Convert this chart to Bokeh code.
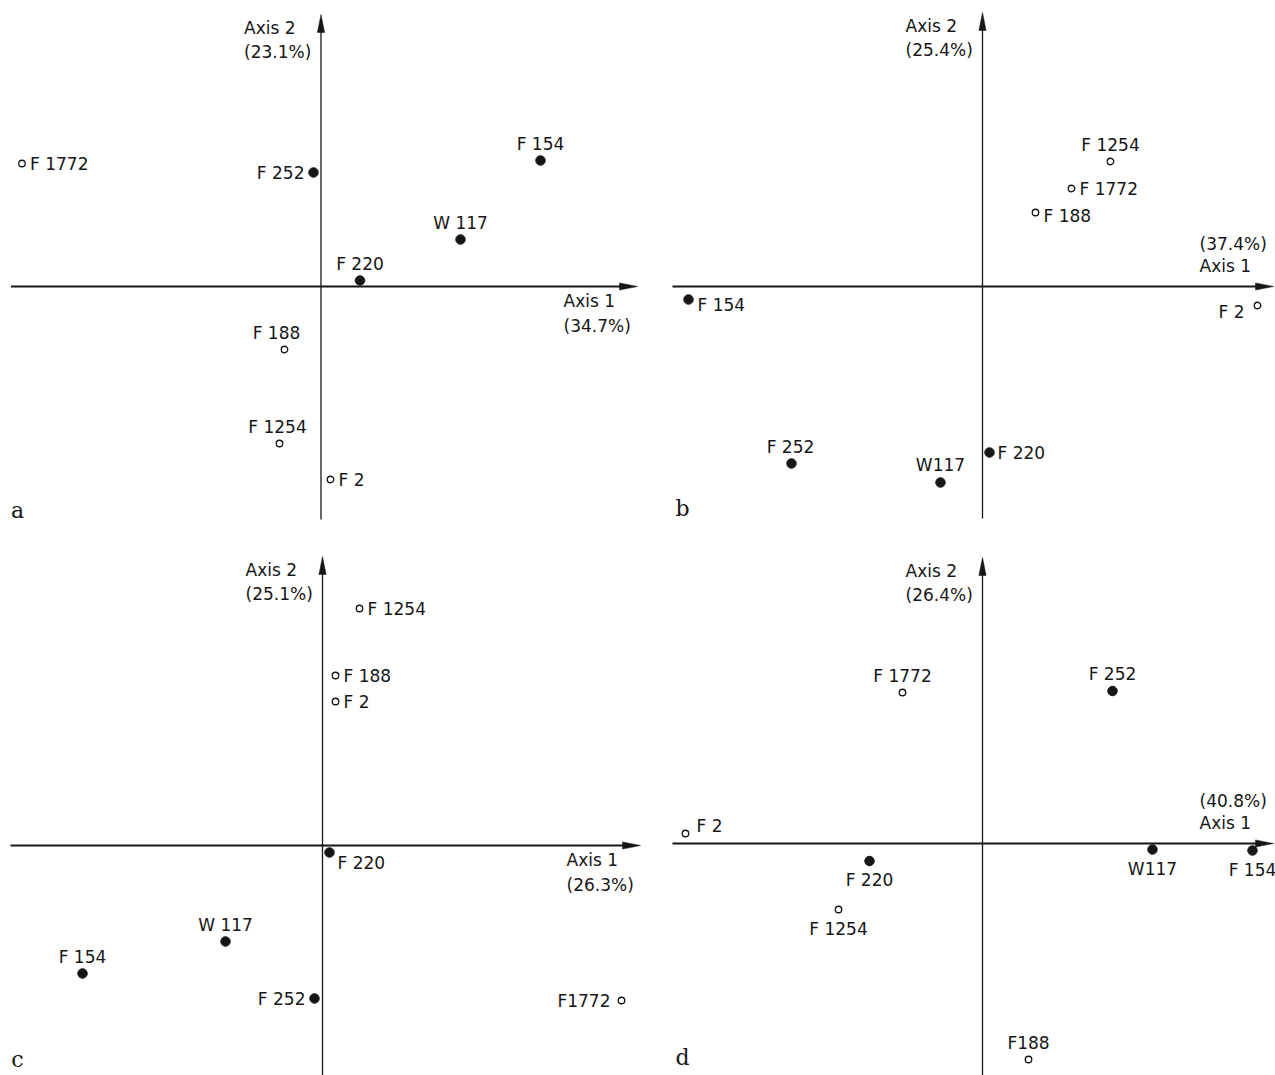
from bokeh.plotting import figure
from bokeh.layouts import gridplot
from bokeh.models import ColumnDataSource, Range1d
from bokeh.core.properties import value
from bokeh.embed import file_html
from bokeh.resources import INLINE

# Strains in a fixed order; open circles vs filled dots
strains = ["F 2", "F 154", "F 188", "F 220", "F 252", "F 1254", "F 1772", "W 117"]
is_open = [True, False, True, False, False, True, True, False]

# Panel a: scores on axis 1 / axis 2
axis1_a = [0.095, 2.195, -0.365, 0.39, -0.075, -0.415, -2.99, 1.395]
axis2_a = [-1.93, 1.26, -0.63, 0.06, 1.14, -1.57, 1.23, 0.47]
labels_a = ["F 2", "F 154", "F 188", "F 220", "F 252", "F 1254", "F 1772", "W 117"]
inertia_a = ["34.7%", "23.1%"]

# Panel b
axis1_b = [2.75, -2.94, 0.53, 0.07, -1.91, 1.28, 0.89, -0.42]
axis2_b = [-0.19, -0.13, 0.74, -1.66, -1.77, 1.25, 0.98, -1.96]
labels_b = ["F 2", "F 154", "F 188", "F 220", "F 252", "F 1254", "F 1772", "W117"]
inertia_b = ["37.4%", "25.4%"]

# Panel c
axis1_c = [0.13, -2.40, 0.13, 0.07, -0.08, 0.37, 2.99, -0.97]
axis2_c = [1.44, -1.28, 1.70, -0.07, -1.53, 2.37, -1.55, -0.96]
labels_c = ["F 2", "F 154", "F 188", "F 220", "F 252", "F 1254", "F1772", "W 117"]
inertia_c = ["26.3%", "25.1%"]

# Panel d
axis1_d = [-2.97, 2.70, 0.46, -1.13, 1.30, -1.44, -0.80, 1.70]
axis2_d = [0.10, -0.07, -2.16, -0.175, 1.525, -0.66, 1.51, -0.06]
labels_d = ["F 2", "F 154", "F188", "F 220", "F 252", "F 1254", "F 1772", "W117"]
inertia_d = ["40.8%", "26.4%"]

# label placement around each marker: (x offset px, y offset px, align)
ABOVE = (0, -17, "center")
BELOW = (0, 19, "center")
RIGHT = (8, 0, "left")
LEFT = (-9, 0, "right")


def nudge(base, dx=0, dy=0):
    return (base[0] + dx, base[1] + dy, base[2])


places_a = [RIGHT, ABOVE, nudge(ABOVE, -8), ABOVE, LEFT, nudge(ABOVE, -2), RIGHT, ABOVE]
places_b = [nudge(LEFT, -4, 6), nudge(RIGHT, 1, 5), nudge(RIGHT, 0, 3), RIGHT,
            nudge(ABOVE, -1), ABOVE, RIGHT, nudge(ABOVE, 0, -1)]
places_c = [RIGHT, ABOVE, RIGHT, nudge(RIGHT, 0, 10), LEFT, RIGHT, nudge(LEFT, -2), ABOVE]
places_d = [nudge(RIGHT, 3, -8), BELOW, ABOVE, BELOW, ABOVE, BELOW, ABOVE, BELOW]

S = 100.0  # screen pixels per score unit
FONT = value("DejaVu Sans")
INK = "#161616"


def panel(axis1, axis2, labels, places, inertia, letter, w, h, ox, oy,
          h_span, v_span, title_below, letter_pos):
    p = figure(width=w, height=h, output_backend="svg", toolbar_location=None,
               x_range=Range1d(-ox / S, (w - ox) / S),
               y_range=Range1d(-(h - oy) / S, oy / S),
               x_axis_location=None, y_axis_location=None,
               min_border=0, outline_line_color=None,
               background_fill_color="white", border_fill_color="white")
    p.grid.visible = False

    # horizontal axis with arrow head
    x0 = (h_span[0] - ox) / S
    xt = (h_span[1] - ox) / S
    head_len, head_hw = 18 / S, 3.6 / S
    p.segment(x0=[x0], y0=[0], x1=[xt - head_len * 0.5], y1=[0],
              line_color=INK, line_width=1.8)
    p.patch(x=[xt, xt - head_len, xt - head_len], y=[0, head_hw, -head_hw],
            fill_color=INK, line_color=INK, line_width=0.5)

    # vertical axis with arrow head
    yb = (oy - v_span[1]) / S
    yt = (oy - v_span[0]) / S
    p.segment(x0=[0], y0=[yb], x1=[0], y1=[yt - head_len * 0.5],
              line_color=INK, line_width=1.3)
    p.patch(x=[0, head_hw, -head_hw], y=[yt, yt - head_len, yt - head_len],
            fill_color=INK, line_color=INK, line_width=0.5)

    src = ColumnDataSource(dict(
        x=axis1, y=axis2, label=labels,
        xo=[pl[0] for pl in places], yo=[pl[1] for pl in places],
        align=[pl[2] for pl in places],
    ))
    filled = ColumnDataSource(dict(
        x=[a for a, o in zip(axis1, is_open) if not o],
        y=[b for b, o in zip(axis2, is_open) if not o]))
    hollow = ColumnDataSource(dict(
        x=[a for a, o in zip(axis1, is_open) if o],
        y=[b for b, o in zip(axis2, is_open) if o]))

    p.scatter("x", "y", source=filled, size=9.5, fill_color=INK, line_color=INK)
    p.scatter("x", "y", source=hollow, size=6.5, fill_color="white",
              line_color=INK, line_width=1.3)
    p.text(x="x", y="y", text="label", x_offset="xo", y_offset="yo",
           text_align="align", text_baseline="middle", source=src,
           text_font=FONT, text_font_size="17px", text_color=INK)

    # axis titles
    pct1, pct2 = inertia
    if title_below:
        lines = ["Axis 1", "(" + pct1 + ")"]
        offs = [14, 39]
    else:
        lines = ["(" + pct1 + ")", "Axis 1"]
        offs = [-43, -21]
    p.text(x=[xt, xt], y=[0, 0], text=lines, x_offset=[-74, -74], y_offset=offs,
           text_align="left", text_baseline="middle",
           text_font=FONT, text_font_size="17px", text_color=INK)
    p.text(x=[0, 0], y=[yt, yt], text=["Axis 2", "(" + pct2 + ")"],
           x_offset=[-77, -77], y_offset=[13, 37],
           text_align="left", text_baseline="middle",
           text_font=FONT, text_font_size="17px", text_color=INK)

    # panel letter
    p.text(x=[(letter_pos[0] - ox) / S], y=[(oy - letter_pos[1]) / S], text=[letter],
           text_align="center", text_baseline="middle",
           text_font=value("DejaVu Serif"), text_font_size="22px", text_color=INK)
    return p


W_L, W_R = 642, 633
H_T, H_B = 530, 545

pa = panel(axis1_a, axis2_a, labels_a, places_a, inertia_a, "a", W_L, H_T, 320.5, 286,
           (10.5, 637), (14, 519), True, (17, 510))
pb = panel(axis1_b, axis2_b, labels_b, places_b, inertia_b, "b", W_R, H_T, 340, 286,
           (30, 631), (12, 518), False, (40, 508))
pc = panel(axis1_c, axis2_c, labels_c, places_c, inertia_c, "c", W_L, H_B, 322, 315,
           (10, 640), (26, 545), True, (17, 529))
pd = panel(axis1_d, axis2_d, labels_d, places_d, inertia_d, "d", W_R, H_B, 340, 313,
           (30, 631), (27, 545), False, (40, 527))

grid = gridplot([[pa, pb], [pc, pd]], toolbar_location=None)

with open("out.html", "w") as f:
    f.write(file_html(grid, INLINE))
